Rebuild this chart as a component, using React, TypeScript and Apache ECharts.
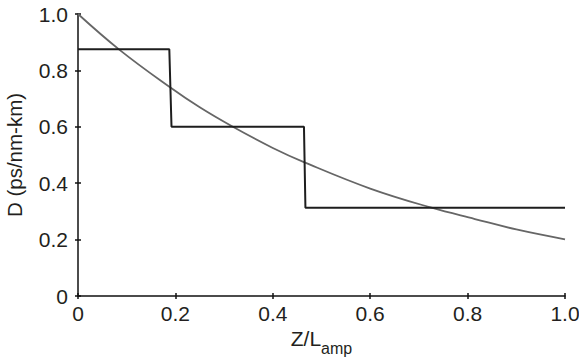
import React, { useEffect, useRef } from "react";
import * as echarts from "echarts";

const stepX = [0, 0.1875, 0.192, 0.464, 0.467, 1.0];
const stepY = [0.875, 0.875, 0.6, 0.6, 0.313, 0.313];

const curveX = [0, 0.086, 0.189, 0.25, 0.318, 0.4, 0.465, 0.6, 0.726, 0.815, 0.9, 1.0];
const curveY = [1.0, 0.872, 0.74, 0.669, 0.6, 0.525, 0.474, 0.381, 0.313, 0.273, 0.236, 0.201];

const tickFmt = (v: number) => (v === 0 ? "0" : v.toFixed(1));

export default function App() {
  const ref = useRef<HTMLDivElement>(null);
  useEffect(() => {
    if (!ref.current) return;
    const chart = echarts.init(ref.current, null, { renderer: "svg" });
    const font = "Liberation Sans, Arial, Helvetica, sans-serif";
    const txt = "#231f20";
    const baseAxis = {
      type: "value",
      min: 0,
      max: 1,
      interval: 0.2,
      splitLine: { show: false },
    };
    const overlay = {
      ...baseAxis,
      axisLine: { show: false, onZero: false },
      axisLabel: { show: false },
      axisTick: { show: true, inside: true, length: 3, lineStyle: { color: "#111", width: 1.5 } },
    };
    chart.setOption({
      animation: false,
      backgroundColor: "#fff",
      grid: { left: 78, right: 14, top: 14, bottom: 65, containLabel: false, outerBoundsMode: "none" },
      xAxis: [
        {
          ...baseAxis,
          position: "bottom",
          name: "{a|Z/L}{b|amp}",
          nameLocation: "middle",
          nameGap: 32,
          nameMoveOverlap: false,
          nameTextStyle: {
            rich: {
              a: { fontSize: 21, color: txt, fontFamily: font, verticalAlign: "top", lineHeight: 24 },
              b: { fontSize: 16, color: txt, fontFamily: font, padding: [12, 0, 0, 0], verticalAlign: "top", lineHeight: 24 },
            },
          },
          axisLine: { lineStyle: { color: "#111", width: 1.5 } },
          axisTick: { show: true, length: 3, inside: false, lineStyle: { color: "#111", width: 1.5 } },
          axisLabel: { formatter: tickFmt, fontSize: 21, color: txt, fontFamily: font, margin: 7 },
        },
        { ...overlay, position: "bottom" },
      ],
      yAxis: [
        {
          ...baseAxis,
          position: "left",
          name: "D (ps/nm-km)",
          nameLocation: "middle",
          nameGap: 53,
          nameMoveOverlap: false,
          nameTextStyle: { fontSize: 20.5, color: txt, fontFamily: font },
          axisLine: { show: true, lineStyle: { color: "#111", width: 1.5 } },
          axisTick: { show: true, length: 3, lineStyle: { color: "#111", width: 1.5 } },
          axisLabel: { formatter: tickFmt, fontSize: 21, color: txt, fontFamily: font, margin: 10 },
        },
        { ...overlay, position: "left" },
      ],
      series: [
        {
          type: "line",
          data: curveX.map((x, i) => [x, curveY[i]]),
          smooth: 0.4,
          showSymbol: false,
          lineStyle: { color: "#666666", width: 1.8 },
        },
        {
          type: "line",
          data: stepX.map((x, i) => [x, stepY[i]]),
          showSymbol: false,
          lineStyle: { color: "#1e1e1e", width: 2 },
        },
      ],
    });
    return () => chart.dispose();
  }, []);
  return <div ref={ref} style={{ width: 579, height: 361, position: "absolute", left: 0, top: 0 }} />;
}
